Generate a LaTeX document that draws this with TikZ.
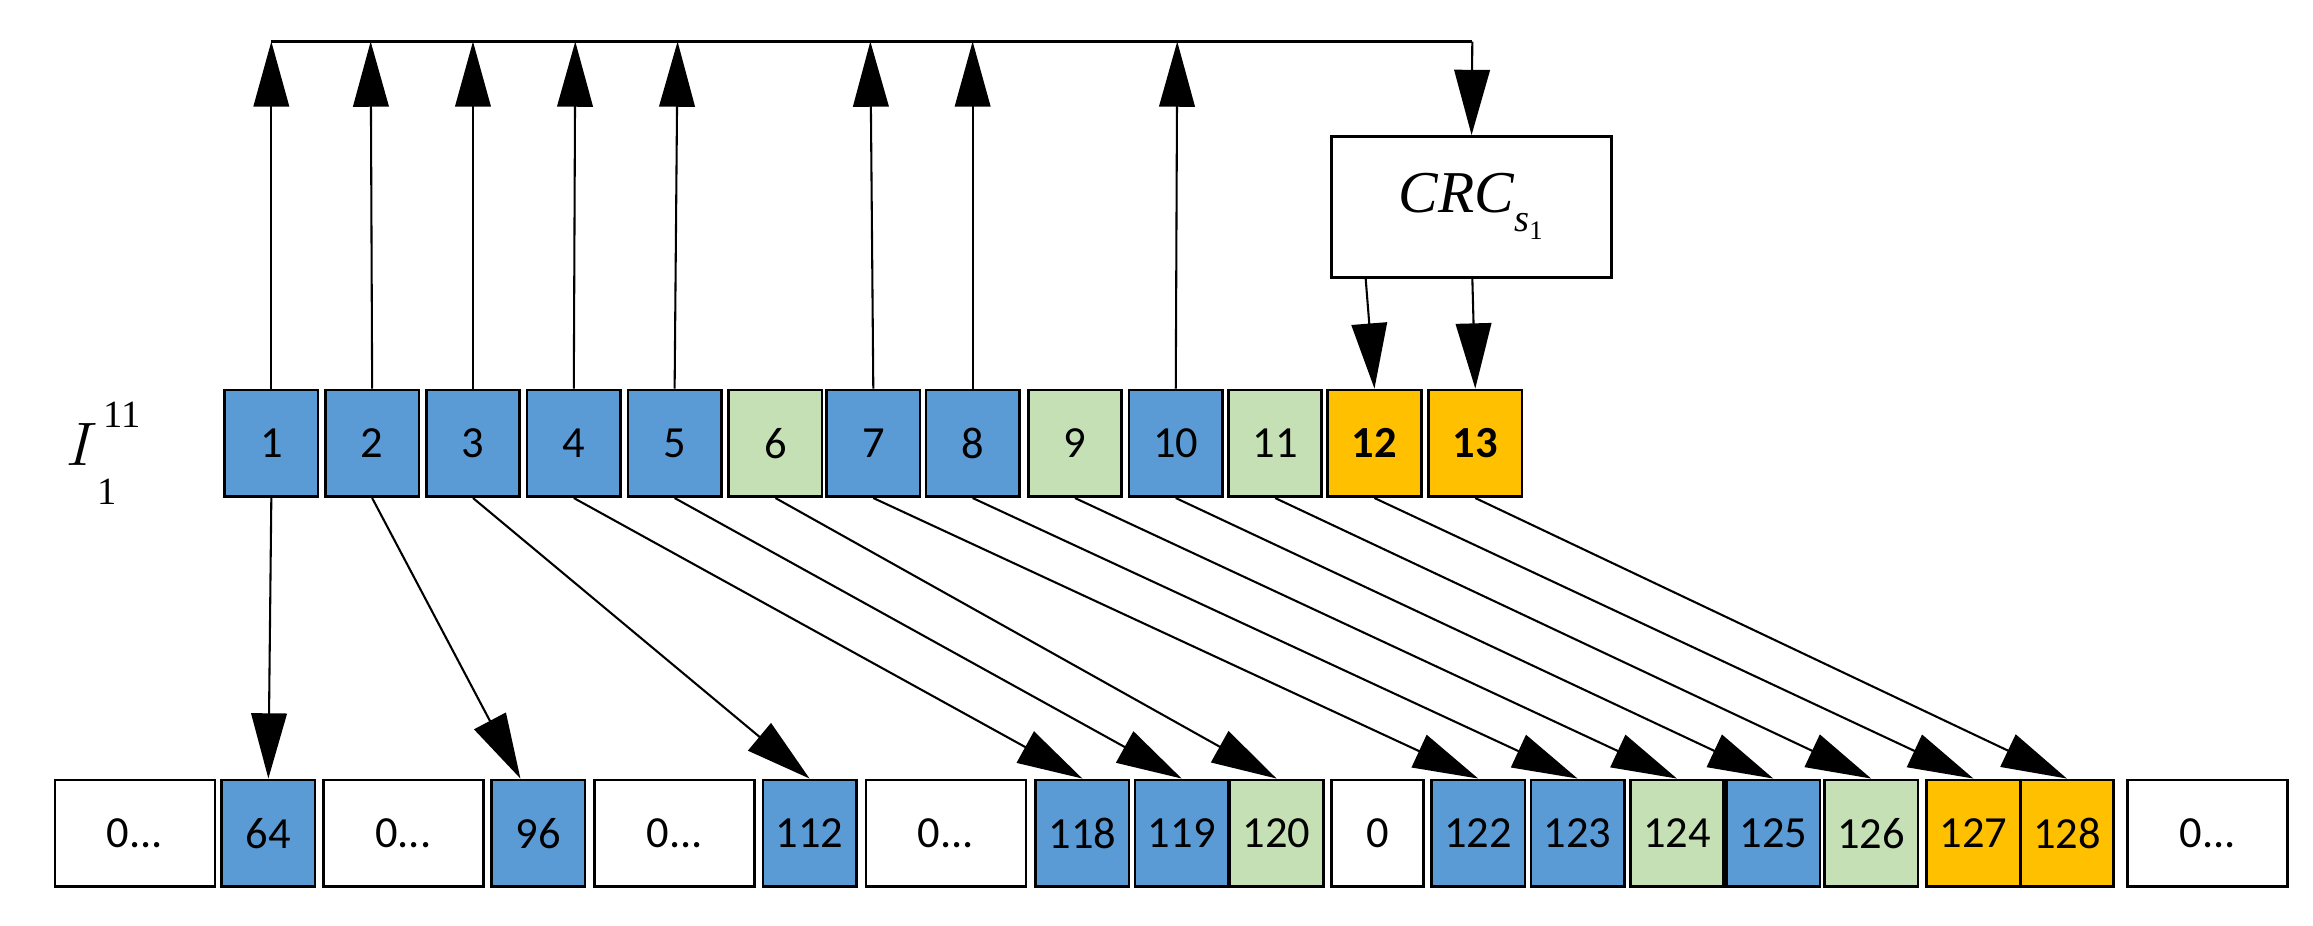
\documentclass[tikz,border=0pt]{standalone}
\usepackage{fontspec}
\setmainfont{Carlito}
\newfontfamily\serf{Liberation Serif}
\usetikzlibrary{arrows.meta}
\definecolor{cblue}{HTML}{5B9BD5}
\definecolor{cgreen}{HTML}{C5E0B4}
\definecolor{corange}{HTML}{FFC000}
\begin{document}
\begin{tikzpicture}[x=0.5pt,y=-0.5pt,
  box/.style={draw=black,line width=0.9pt,minimum height=36pt,inner sep=0pt,font=\fontsize{15}{15}\selectfont},
  b/.style={box,fill=cblue,minimum width=31.5pt},
  g/.style={box,fill=cgreen,minimum width=31.5pt},
  o/.style={box,fill=corange,minimum width=31.5pt,font=\fontsize{15}{15}\selectfont\bfseries},
  w/.style={box,fill=white,minimum width=54pt},
  ws/.style={box,fill=white,minimum width=31pt},
  o2/.style={box,fill=corange,minimum width=31.5pt},
  arr/.style={line width=0.7pt,-{Triangle[length=22pt,width=12pt]}},
  ln/.style={line width=0.7pt}]
\useasboundingbox (0,0) rectangle (1560,624);
% top row
\node[b] (t1) at (183,299) {1};
\node[b] (t2) at (251,299) {2};
\node[b] (t3) at (319,299) {3};
\node[b] (t4) at (387,299) {4};
\node[b] (t5) at (455,299) {5};
\node[g] (t6) at (523,299) {6};
\node[b] (t7) at (589,299) {7};
\node[b] (t8) at (656,299) {8};
\node[g] (t9) at (725,299) {9};
\node[b] (t10) at (793,299) {10};
\node[g] (t11) at (860,299) {11};
\node[o] (t12) at (927,299) {12};
\node[o] (t13) at (995,299) {13};
\node[font=\serf\itshape\fontsize{22}{22}\selectfont] (lab) at (62,300) {$I$\raisebox{0pt}[0pt][0pt]{\makebox[0pt][l]{\hspace{2pt}\raisebox{13pt}{\upshape\fontsize{13}{13}\selectfont 11}}\raisebox{-13pt}{\upshape\fontsize{13}{13}\selectfont 1}}\hspace{14pt}};
% bottom row
\node[w] (z1) at (91,562) {0...};
\node[b] (r64) at (181,562) {64};
\node[w] (z2) at (272,562) {0...};
\node[b] (r96) at (363,562) {96};
\node[w] (z3) at (455,562) {0...};
\node[b] (r112) at (546,562) {112};
\node[w] (z4) at (638,562) {0...};
\node[b] (r118) at (730,562) {118};
\node[b] (r119) at (797,562) {119};
\node[g] (r120) at (861,562) {120};
\node[ws] (r0) at (929,562) {0};
\node[b] (r122) at (997,562) {122};
\node[b] (r123) at (1064,562) {123};
\node[g] (r124) at (1131,562) {124};
\node[b] (r125) at (1196,562) {125};
\node[g] (r126) at (1262,562) {126};
\node[o2] (r127) at (1331,562) {127};
\node[o2] (r128) at (1394,562) {128};
\node[w] (z5) at (1489,562) {0...};
% CRC
\node[draw=black,line width=0.9pt,fill=white,minimum width=94.5pt,minimum height=47.5pt,inner sep=0pt] (crc) at (992.5,139.5) {\serf\itshape\fontsize{20}{20}\selectfont CRC$_{\raisebox{-3pt}{\fontsize{13}{13}\selectfont\serf\itshape s\upshape\fontsize{9}{9}\selectfont\raisebox{-3pt}{1}}}$\hspace{18pt}};
% top bus
\coordinate (c1) at (183,28);
\coordinate (c2) at (250,28);
\coordinate (c3) at (319,28);
\coordinate (c4) at (388,28);
\coordinate (c5) at (457,28);
\coordinate (c7) at (587,28);
\coordinate (c8) at (656,28);
\coordinate (c10) at (794,28);
\coordinate (cr) at (993,28);
\draw[ln] (c1) -- (cr);
\draw[arr] (cr) -- (crc.north);
\foreach \i in {1,2,3,4,5,7,8,10}{\draw[arr] (t\i.north) -- (c\i);}
% crc to 12,13
\coordinate (s12) at (921,187);
\coordinate (s13) at (993,187);
\draw[arr] (s12) -- (t12.north);
\draw[arr] (s13) -- (t13.north);
% down arrows
\draw[arr] (t1.south) -- (r64.north);
\draw[arr] (t2.south) -- ([xshift=-6pt]r96.north);
\draw[arr] (t3.south) -- (r112.north);
\draw[arr] (t4.south) -- (r118.north);
\draw[arr] (t5.south) -- (r119.north);
\draw[arr] (t6.south) -- (r120.north);
\draw[arr] (t7.south) -- (r122.north);
\draw[arr] (t8.south) -- (r123.north);
\draw[arr] (t9.south) -- (r124.north);
\draw[arr] (t10.south) -- (r125.north);
\draw[arr] (t11.south) -- (r126.north);
\draw[arr] (t12.south) -- (r127.north);
\draw[arr] (t13.south) -- (r128.north);
\end{tikzpicture}
\end{document}
